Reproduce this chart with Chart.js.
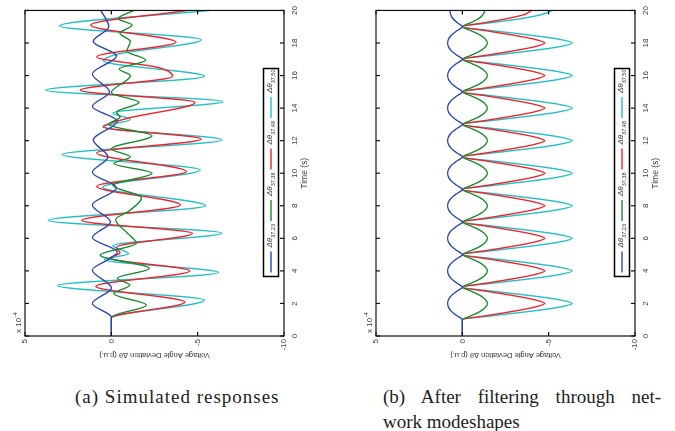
<!DOCTYPE html>
<html>
<head>
<meta charset="utf-8">
<script src="https://cdn.jsdelivr.net/npm/chart.js@4.4.1/dist/chart.umd.min.js"></script>
<style>
  html, body { margin: 0; padding: 0; background: #fff; }
  body { width: 675px; height: 431px; overflow: hidden; position: relative; }
  /* each plot is laid out time-left-to-right, then turned a quarter turn */
  .panel { position: absolute; top: 0; width: 370px; height: 320px;
           transform-origin: 0 0; transform: translate(0, 370px) rotate(-90deg); }
  #pa { left: 0; }
  #pb { left: 351px; }
  .cap { position: absolute; font-family: "Liberation Serif", serif; font-size: 19px;
         line-height: 25px; color: #222; white-space: nowrap; }
  #capA { left: 75px; top: 384px; letter-spacing: 1px; }
  #capB { left: 383px; top: 384px; width: 278px; }
  #capB .l1 { text-align: justify; text-align-last: justify; }
</style>
</head>
<body>
<div class="panel" id="pa"><canvas id="ca" width="370" height="320"></canvas></div>
<div class="panel" id="pb"><canvas id="cb" width="370" height="320"></canvas></div>
<div class="cap" id="capA">(a) Simulated responses</div>
<div class="cap" id="capB"><div class="l1">(b) After filtering through net-</div><div>work modeshapes</div></div>
<script>
// bus pairs shown in both plots
const pairLabels = ['37,23', '37,38', '37,48', '37,50'];
const pairColors = ['#2a48b0', '#178a2e', '#f0222a', '#22c0c6'];

// (a) simulated responses, x1e-4 p.u. — turning points of each trace
const simT23 = [0, 1.15, 2.0, 2.95, 4.05, 4.75, 5.15, 6.05, 7.0, 8.05, 9.1, 10.05, 11.0, 12.05, 13.2, 14.1, 15.0, 16.1, 17.2, 18.1, 19.0, 20];
const simV23 = [0, 0, 1.1, 0.0, 1.1, 0.1, -0.35, 1.1, 0.05, 1.1, -0.3, 1.1, 0.2, 1.05, -0.35, 1.1, 0.1, 1.1, -0.3, 1.05, 0.15, 0.6];

const simT38 = [0, 1.15, 1.9, 2.6, 3.13, 3.55, 4.15, 4.97, 5.7, 6.3, 7.15, 7.7, 8.5, 9.25, 10.0, 10.6, 11.0, 11.5, 12.3, 13.0, 13.45, 13.75, 14.35, 14.95, 16.0, 16.4, 16.95, 17.5, 18.1, 18.6, 19.1, 19.5, 20];
const simV38 = [0, 0, -2.03, -0.15, -1.07, -0.35, -2.2, 0.64, -1.45, -0.95, -0.25, -1.05, -1.75, -0.1, -2.35, -0.15, -1.1, 0.0, -2.35, 0.15, -0.5, -0.3, -1.6, 0.0, -1.1, -0.45, -2.0, -0.9, -1.1, -0.5, -1.2, -0.4, -1.3];

const simT48 = [0, 1.1, 2.08, 3.05, 4.0, 4.8, 5.1, 5.45, 6.3, 7.1, 8.05, 9.2, 10.1, 11.25, 12.1, 12.85, 13.35, 14.35, 15.1, 15.95, 16.5, 17.15, 18.05, 19.1, 20];
const simV48 = [0, 0, -4.25, 0.9, -4.55, 0.05, -0.5, -0.3, -4.7, 1.7, -4.0, 0.85, -4.35, 0.85, -5.2, 0.45, -0.85, -4.85, 1.8, -3.55, -2.7, 0.85, -3.75, 1.2, -4.4];

const simT50 = [0, 1.1, 2.2, 3.1, 3.9, 4.7, 5.05, 5.55, 6.32, 7.1, 8.0, 9.15, 10.2, 11.15, 12.05, 12.85, 13.3, 13.7, 14.4, 15.1, 15.95, 16.9, 17.3, 18.2, 19.05, 20];
const simV50 = [0, 0, -5.4, 3.1, -6.2, 0.4, -1.0, -0.1, -6.4, 3.65, -5.45, 0.5, -5.15, 2.85, -6.4, 0.5, -1.1, -0.1, -6.45, 3.8, -5.4, 0.45, -0.3, -5.2, 3.0, -5.7];

// (b) after filtering through network modeshapes, sampled every 0.25 s from t = 1
const filtT = [0,
  1, 1.25, 1.5, 1.75, 2, 2.25, 2.5, 2.75, 3, 3.25, 3.5, 3.75, 4, 4.25, 4.5, 4.75,
  5, 5.25, 5.5, 5.75, 6, 6.25, 6.5, 6.75, 7, 7.25, 7.5, 7.75, 8, 8.25, 8.5, 8.75,
  9, 9.25, 9.5, 9.75, 10, 10.25, 10.5, 10.75, 11, 11.25, 11.5, 11.75, 12, 12.25, 12.5, 12.75,
  13, 13.25, 13.5, 13.75, 14, 14.25, 14.5, 14.75, 15, 15.25, 15.5, 15.75, 16, 16.25, 16.5, 16.75,
  17, 17.25, 17.5, 17.75, 18, 18.25, 18.5, 18.75, 19, 19.25, 19.5, 19.75, 20];
const filtV23 = [0,
  0, 0.32, 0.62, 0.8, 0.85, 0.8, 0.62, 0.32, 0, 0.32, 0.62, 0.8, 0.85, 0.8, 0.62, 0.32,
  0, 0.32, 0.62, 0.8, 0.85, 0.8, 0.62, 0.32, 0, 0.32, 0.62, 0.8, 0.85, 0.8, 0.62, 0.32,
  0, 0.32, 0.62, 0.8, 0.85, 0.8, 0.62, 0.32, 0, 0.32, 0.62, 0.8, 0.85, 0.8, 0.62, 0.32,
  0, 0.32, 0.62, 0.8, 0.85, 0.8, 0.62, 0.32, 0, 0.32, 0.62, 0.8, 0.85, 0.8, 0.62, 0.32,
  0, 0.32, 0.62, 0.8, 0.85, 0.8, 0.62, 0.32, 0, 0.3, 0.55, 0.68, 0.72];
const filtV38 = [0,
  0, -0.52, -1.02, -1.33, -1.45, -1.33, -1.02, -0.52, 0, -0.52, -1.02, -1.33, -1.45, -1.33, -1.02, -0.52,
  0, -0.52, -1.02, -1.33, -1.45, -1.33, -1.02, -0.52, 0, -0.52, -1.02, -1.33, -1.45, -1.33, -1.02, -0.52,
  0, -0.52, -1.02, -1.33, -1.45, -1.33, -1.02, -0.52, 0, -0.52, -1.02, -1.33, -1.45, -1.33, -1.02, -0.52,
  0, -0.52, -1.02, -1.33, -1.45, -1.33, -1.02, -0.52, 0, -0.52, -1.02, -1.33, -1.45, -1.33, -1.02, -0.52,
  0, -0.52, -1.02, -1.33, -1.45, -1.33, -1.02, -0.52, 0, -0.5, -0.95, -1.2, -1.3];
const filtV48 = [0,
  0, -1.4, -2.85, -4.1, -4.77, -4.1, -2.85, -1.4, 0, -1.4, -2.85, -4.1, -4.77, -4.1, -2.85, -1.4,
  0, -1.4, -2.85, -4.1, -4.77, -4.1, -2.85, -1.4, 0, -1.4, -2.85, -4.1, -4.77, -4.1, -2.85, -1.4,
  0, -1.4, -2.85, -4.1, -4.77, -4.1, -2.85, -1.4, 0, -1.4, -2.85, -4.1, -4.77, -4.1, -2.85, -1.4,
  0, -1.4, -2.85, -4.1, -4.77, -4.1, -2.85, -1.4, 0, -1.4, -2.85, -4.1, -4.77, -4.1, -2.85, -1.4,
  0, -1.4, -2.85, -4.1, -4.77, -4.1, -2.85, -1.4, 0, -1.3, -2.6, -3.6, -4.0];
const filtV50 = [0,
  0, -1.8, -3.8, -5.5, -6.37, -5.5, -3.8, -1.8, 0, -1.8, -3.8, -5.5, -6.37, -5.5, -3.8, -1.8,
  0, -1.8, -3.8, -5.5, -6.37, -5.5, -3.8, -1.8, 0, -1.8, -3.8, -5.5, -6.37, -5.5, -3.8, -1.8,
  0, -1.8, -3.8, -5.5, -6.37, -5.5, -3.8, -1.8, 0, -1.8, -3.8, -5.5, -6.37, -5.5, -3.8, -1.8,
  0, -1.8, -3.8, -5.5, -6.37, -5.5, -3.8, -1.8, 0, -1.8, -3.8, -5.5, -6.37, -5.5, -3.8, -1.8,
  0, -1.8, -3.8, -5.5, -6.37, -5.5, -3.8, -1.8, 0, -1.7, -3.4, -4.6, -5.2];

const AXIS_FONT = 'Liberation Sans, Arial, sans-serif';
const INK = '#3a3a3a';

const pts = (ts, vs) => ts.map((t, i) => ({ x: t, y: vs[i] }));

// box round the axes with MATLAB-style inward ticks on all four sides
const framePlugin = {
  id: 'frame',
  afterDraw(chart) {
    const { ctx, chartArea: a, scales: { x, y } } = chart;
    const len = 4;
    ctx.save();
    ctx.strokeStyle = '#111';
    ctx.lineWidth = 1.2;
    ctx.strokeRect(a.left, a.top, a.right - a.left, a.bottom - a.top);
    ctx.beginPath();
    x.ticks.forEach((t) => {
      const px = x.getPixelForValue(t.value);
      ctx.moveTo(px, a.bottom); ctx.lineTo(px, a.bottom - len);
      ctx.moveTo(px, a.top); ctx.lineTo(px, a.top + len);
    });
    y.ticks.forEach((t) => {
      const py = y.getPixelForValue(t.value);
      ctx.moveTo(a.left, py); ctx.lineTo(a.left + len, py);
      ctx.moveTo(a.right, py); ctx.lineTo(a.right - len, py);
    });
    ctx.stroke();

    // exponent label above the value axis
    ctx.fillStyle = INK;
    ctx.textBaseline = 'alphabetic';
    ctx.font = '8px ' + AXIS_FONT;
    ctx.fillText('x 10', a.left + 3, a.top - 4);
    const w = ctx.measureText('x 10').width;
    ctx.font = '6px ' + AXIS_FONT;
    ctx.fillText('-4', a.left + 3 + w + 0.5, a.top - 8);
    ctx.restore();
  },
};

// boxed horizontal legend sitting inside the bottom of the axes
const legendPlugin = {
  id: 'boxLegend',
  afterDraw(chart) {
    const { ctx, chartArea: a } = chart;
    const w = 208, h = 15, step = 51.5;
    const x0 = Math.round((a.left + a.right) / 2 - w / 2) + 0.5;
    const y0 = Math.round(a.bottom - 6 - h) + 0.5;
    ctx.save();
    ctx.fillStyle = '#fff';
    ctx.fillRect(x0, y0, w, h);
    ctx.strokeStyle = '#000';
    ctx.lineWidth = 1.5;
    ctx.strokeRect(x0, y0, w, h);
    chart.data.datasets.forEach((ds, i) => {
      const sx = x0 + 4 + i * step;
      const my = y0 + h / 2;
      ctx.strokeStyle = ds.borderColor;
      ctx.lineWidth = 1.4;
      ctx.beginPath();
      ctx.moveTo(sx, my); ctx.lineTo(sx + 21, my);
      ctx.stroke();
      ctx.fillStyle = INK;
      ctx.textBaseline = 'middle';
      ctx.font = 'italic 8px ' + AXIS_FONT;
      ctx.fillText('Δθ', sx + 25, my - 1);
      const tw = ctx.measureText('Δθ').width;
      ctx.font = '5.5px ' + AXIS_FONT;
      ctx.fillText(pairLabels[i], sx + 25 + tw, my + 2.5);
    });
    ctx.restore();
  },
};

function makeChart(canvasId, series) {
  const datasets = series.map((s, i) => ({
    label: 'Δθ' + pairLabels[i],
    data: s,
    borderColor: pairColors[i],
    backgroundColor: pairColors[i],
    borderWidth: 1.4,
    pointRadius: 0,
    cubicInterpolationMode: 'monotone',
    fill: false,
  }));
  return new Chart(document.getElementById(canvasId), {
    type: 'line',
    data: { datasets },
    plugins: [framePlugin, legendPlugin],
    options: {
      responsive: false,
      animation: false,
      events: [],
      layout: { padding: { left: 0, top: 25, right: 9, bottom: 0 } },
      plugins: { legend: { display: false }, tooltip: { enabled: false } },
      scales: {
        x: {
          type: 'linear', min: 0, max: 20,
          afterFit: (s) => { s.height = 36; },
          grid: { display: false, drawTicks: false }, border: { display: false },
          ticks: { stepSize: 2, autoSkip: false, maxRotation: 0, padding: 6, color: INK,
                   font: { family: AXIS_FONT, size: 8 } },
          title: { display: true, text: 'Time (s)', color: INK, padding: { top: 0, bottom: 10 },
                   font: { family: AXIS_FONT, size: 8.5 } },
        },
        y: {
          type: 'linear', min: -10, max: 5,
          afterFit: (s) => { s.width = 34; },
          grid: { display: false, drawTicks: false }, border: { display: false },
          ticks: { stepSize: 5, padding: 3, color: INK, font: { family: AXIS_FONT, size: 8 } },
          title: { display: true, text: 'Voltage Angle Deviation Δθ (p.u.)', color: INK,
                   padding: { top: 10, bottom: 0 }, font: { family: AXIS_FONT, size: 7.5 } },
        },
      },
    },
  });
}

makeChart('ca', [pts(simT23, simV23), pts(simT38, simV38), pts(simT48, simV48), pts(simT50, simV50)]);
makeChart('cb', [pts(filtT, filtV23), pts(filtT, filtV38), pts(filtT, filtV48), pts(filtT, filtV50)]);
</script>
</body>
</html>
